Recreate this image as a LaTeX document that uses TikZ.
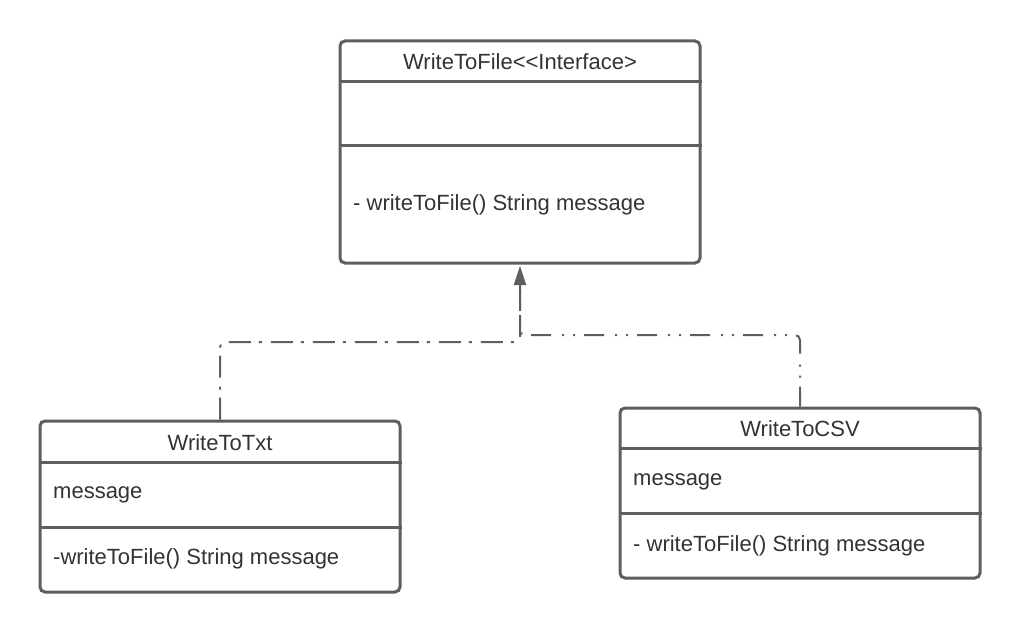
\documentclass[tikz,border=0pt]{standalone}
\usepackage{fontspec}
\setmainfont{Liberation Sans}
\usetikzlibrary{arrows.meta}
\definecolor{linegray}{HTML}{5E5E5E}
\definecolor{textgray}{HTML}{333333}
\tikzset{
  umlbox/.style={draw=linegray, line width=3pt, rounded corners=5pt, fill=white, inner sep=0pt},
  divider/.style={draw=linegray, line width=3pt},
  title/.style={text=textgray, font=\fontsize{22}{26}\selectfont, inner sep=0pt, anchor=center},
  member/.style={text=textgray, font=\fontsize{22}{26}\selectfont, inner sep=0pt, anchor=west},
  realizeA/.style={draw=linegray, line width=2pt, rounded corners=5pt, dash pattern=on 22pt off 8pt on 3pt off 9pt},
  realizeB/.style={draw=linegray, line width=2pt, rounded corners=5pt, dash pattern=on 20pt off 9pt on 2pt off 9pt on 2pt off 11pt},
  tipA/.style={-{Triangle[length=19pt,width=12pt]}}
}
\begin{document}
\begin{tikzpicture}[x=1pt,y=-1pt]
\useasboundingbox (0,0) rectangle (1020,631);
% boxes
\node[umlbox, minimum width=360pt, minimum height=222pt] (f) at (520,152) {};
\node[umlbox, minimum width=360pt, minimum height=171pt] (t) at (220,506.5) {};
\node[umlbox, minimum width=360pt, minimum height=170pt] (c) at (800,493) {};
% dividers
\draw[divider] (f.west |- 0,82) -- (f.east |- 0,82);
\draw[divider] (f.west |- 0,146) -- (f.east |- 0,146);
\draw[divider] (t.west |- 0,462) -- (t.east |- 0,462);
\draw[divider] (t.west |- 0,527) -- (t.east |- 0,527);
\draw[divider] (c.west |- 0,448) -- (c.east |- 0,448);
\draw[divider] (c.west |- 0,513) -- (c.east |- 0,513);
% texts
\node[title] (ft) at (520,62) {WriteToFile<{}<Interface>};
\node[member] (fm) at (353,205) {- writeToFile() String message};
\node[title] (tt) at (220,443) {WriteToTxt};
\node[member] (tf) at (53,495) {message};
\node[member] (tm) at (53,559) {-writeToFile() String message};
\node[title] (ct) at (800,429) {WriteToCSV};
\node[member] (cf) at (633,482) {message};
\node[member] (cm) at (633,546) {- writeToFile() String message};
% connectors
\coordinate (jl) at (220,342);
\coordinate (jr) at (800,335);
\draw[realizeB] (c.north) -- (c.north |- jr) -- (f.south |- jr) -- ([yshift=-1pt]f.south);
\draw[realizeA, tipA] (t.north) -- (t.north |- jl) -- (f.south |- jl) -- ([yshift=-1.5pt]f.south);
\end{tikzpicture}
\end{document}
